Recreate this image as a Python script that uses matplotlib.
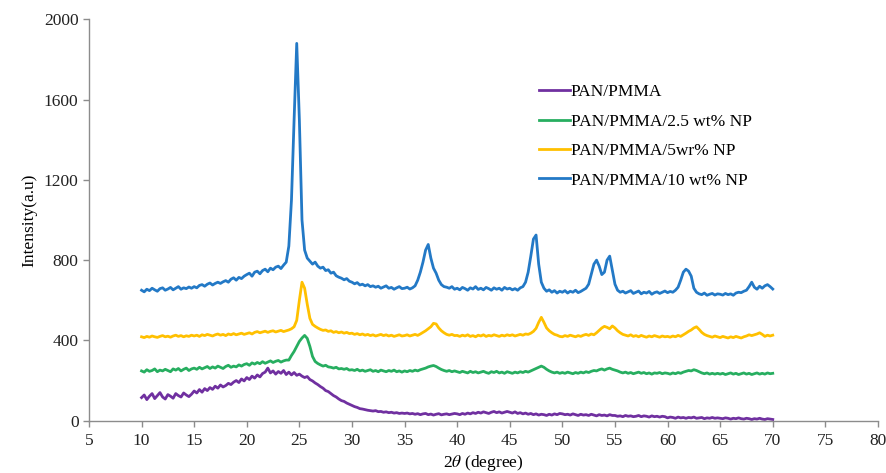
import numpy as np
import matplotlib
matplotlib.use("Agg")
import matplotlib.pyplot as plt

# 2-theta grid (degree), 10..70 step 0.25
two_theta = np.linspace(10, 70, 241)

labels = ["PAN/PMMA", "PAN/PMMA/2.5 wt% NP", "PAN/PMMA/5wr% NP", "PAN/PMMA/10 wt% NP"]

# intensities, one row = 5 degrees
pan_pmma = [
    115, 128, 105, 122, 135, 110, 125, 140, 118, 108, 130, 122, 112, 135, 125, 118, 138, 128, 120, 132,
    148, 138, 155, 142, 160, 150, 165, 156, 172, 162, 178, 168, 175, 186, 180, 192, 200, 190, 208, 198,
    215, 205, 222, 212, 228, 218, 235, 242, 262, 238, 248, 232, 245, 236, 250, 230, 242, 228, 240, 226,
    232, 222, 215, 220, 205, 198, 188, 180, 170, 162, 150, 145, 135, 125, 118, 108, 100, 96, 88, 82,
    76, 70, 66, 60, 58, 55, 52, 50, 48, 50, 45, 46, 42, 44, 40, 42, 38, 40, 36, 38,
    36, 38, 34, 36, 32, 35, 30, 34, 36, 30, 33, 28, 32, 35, 29, 32, 34, 30, 33, 36,
    34, 30, 36, 32, 38, 34, 40, 36, 42, 38, 44, 40, 36, 42, 46, 40, 44, 38, 42, 46,
    42, 38, 44, 36, 40, 34, 38, 32, 36, 30, 34, 28, 32, 30, 26, 32, 28, 34, 30, 36,
    34, 30, 32, 28, 34, 30, 26, 32, 28, 30, 26, 32, 28, 24, 30, 26, 28, 24, 30, 26,
    26, 22, 24, 20, 26, 22, 24, 20, 22, 26, 20, 24, 22, 18, 24, 20, 22, 18, 22, 20,
    14, 18, 16, 12, 18, 14, 16, 12, 16, 14, 18, 12, 14, 16, 10, 14, 12, 16, 12, 14,
    12, 10, 14, 12, 8, 12, 10, 14, 10, 8, 12, 10, 6, 10, 8, 12, 8, 6, 10, 8,
    6,
]

np_2_5 = [
    248, 242, 254, 246, 250, 258, 244, 252, 248, 256, 250, 244, 258, 252, 260, 248, 256, 262, 250, 258,
    262, 256, 266, 258, 264, 270, 260, 268, 262, 272, 266, 260, 270, 276, 266, 272, 268, 278, 272, 280,
    284, 276, 288, 282, 290, 284, 294, 286, 292, 298, 290, 296, 300, 292, 298, 302, 302, 325, 345, 370,
    395, 412, 425, 410, 370, 320, 295, 285, 278, 272, 276, 268, 266, 262, 266, 258, 260, 256, 260, 252,
    254, 250, 256, 248, 252, 246, 250, 254, 246, 250, 244, 252, 248, 244, 250, 246, 252, 244, 248, 242,
    248, 244, 250, 246, 252, 248, 254, 258, 262, 268, 272, 275, 270, 262, 255, 250, 246, 250, 244, 248,
    244, 240, 246, 242, 238, 246, 240, 244, 238, 242, 246, 240, 236, 244, 240, 246, 238, 242, 236, 244,
    240, 236, 242, 238, 244, 240, 246, 242, 248, 254, 260, 266, 272, 266, 256, 248, 242, 238, 242, 236,
    240, 236, 242, 238, 234, 240, 236, 242, 238, 244, 240, 246, 250, 248, 254, 258, 252, 258, 262, 256,
    252, 248, 242, 238, 242, 236, 240, 234, 238, 242, 236, 240, 234, 238, 232, 238, 236, 240, 234, 238,
    236, 232, 238, 234, 240, 236, 242, 246, 250, 248, 254, 250, 244, 238, 234, 238, 232, 236, 232, 236,
    232, 236, 230, 234, 238, 232, 236, 230, 234, 238, 232, 236, 230, 234, 238, 232, 236, 232, 238, 234,
    236,
]

np_5 = [
    418, 414, 420, 416, 422, 418, 415, 420, 424, 418, 421, 416, 422, 426, 420, 424, 418, 423, 420, 426,
    422, 426, 420, 428, 424, 430, 426, 422, 428, 432, 426, 430, 424, 432, 428, 434, 428, 432, 436, 430,
    434, 438, 432, 440, 444, 438, 442, 446, 440, 445, 448, 442, 446, 450, 444, 448, 452, 458, 468, 500,
    600, 690, 660, 580, 510, 480, 470, 462, 455, 450, 452, 445, 448, 440, 444, 438, 442, 436, 440, 434,
    436, 430, 434, 428, 432, 426, 430, 424, 428, 422, 426, 430, 424, 428, 422, 426, 420, 424, 428, 422,
    424, 428, 422, 426, 430, 425, 432, 440, 448, 458, 468, 485, 482, 462, 448, 438, 430, 426, 430, 424,
    425, 420, 426, 422, 428, 420, 424, 418, 426, 422, 428, 420, 425, 422, 428, 424, 420, 426, 422, 428,
    424, 428, 422, 426, 430, 426, 432, 430, 436, 445, 460, 490, 515, 490, 462, 448, 438, 430, 426, 420,
    418, 424, 420, 426, 422, 418, 424, 420, 426, 430, 425, 432, 428, 438, 450, 462, 470, 465, 458, 472,
    462, 448, 438, 430, 426, 422, 428, 420, 424, 418, 425, 420, 416, 422, 418, 424, 420, 416, 422, 418,
    420, 416, 422, 418, 425, 420, 428, 436, 445, 452, 462, 468, 455, 440, 430, 424, 420, 416, 422, 418,
    414, 420, 416, 412, 418, 414, 420, 416, 412, 418, 422, 428, 424, 428, 432, 438, 430, 420, 426, 422,
    426,
]

np_10 = [
    650, 642, 655, 648, 660, 652, 645, 658, 662, 650, 656, 664, 652, 660, 668, 655, 662, 658, 666, 660,
    668, 662, 674, 678, 670, 680, 686, 676, 684, 690, 684, 692, 698, 690, 705, 712, 700, 714, 708, 720,
    728, 735, 720, 740, 745, 732, 748, 755, 742, 760, 752, 765, 770, 758, 775, 790, 870, 1100, 1500, 1880,
    1500, 1000, 850, 810, 795, 780, 790, 770, 760, 765, 748, 752, 735, 740, 722, 715, 710, 702, 708, 695,
    690, 682, 688, 676, 680, 672, 678, 668, 672, 665, 670, 660, 666, 672, 660, 664, 655, 662, 668, 658,
    660, 665, 656, 662, 672, 700, 740, 790, 850, 878, 810, 760, 735, 700, 678, 668, 665, 660, 668, 655,
    660, 652, 664, 658, 650, 662, 656, 668, 654, 660, 652, 664, 658, 650, 662, 655, 660, 650, 664, 656,
    660, 652, 658, 650, 662, 668, 690, 740, 820, 905, 925, 780, 690, 660, 645, 652, 640, 648, 636, 645,
    640, 648, 636, 645, 640, 650, 638, 644, 652, 660, 680, 730, 780, 800, 770, 728, 740, 800, 820, 750,
    680, 650, 640, 645, 636, 642, 648, 634, 640, 646, 632, 640, 636, 644, 630, 638, 642, 634, 640, 646,
    638, 644, 640, 650, 665, 700, 740, 755, 745, 720, 660, 640, 632, 628, 636, 625, 630, 634, 626, 632,
    630, 626, 634, 628, 632, 625, 636, 640, 638, 645, 650, 668, 690, 665, 655, 670, 660, 672, 678, 668,
    656,
]

series = [pan_pmma, np_2_5, np_5, np_10]
colors = ["#7030A0", "#27AE60", "#FFC000", "#2379C6"]

plt.rcParams["font.family"] = ["Liberation Serif", "DejaVu Serif"]
plt.rcParams["mathtext.fontset"] = "stix"

fig = plt.figure(figsize=(8.87, 4.73), dpi=100)
ax = fig.add_axes([0.1003, 0.1106, 0.8895, 0.8486])

for ys, col, lab in zip(series, colors, labels):
    ax.plot(two_theta, ys, color=col, lw=2.0, label=lab)

ax.set_xlim(5, 80)
ax.set_ylim(0, 2000)
ax.set_xticks(range(5, 81, 5))
ax.set_yticks(range(0, 2001, 400))

for s in ["top", "right"]:
    ax.spines[s].set_visible(False)
for s in ["left", "bottom"]:
    ax.spines[s].set_color("#8c8c8c")
    ax.spines[s].set_linewidth(1.0)
ax.tick_params(axis="both", direction="out", length=4, width=1, color="#8c8c8c",
               labelsize=12.5, labelcolor="#222222")
ax.tick_params(axis="x", pad=5)

ax.set_ylabel("Intensity(a.u)", fontsize=12.5, labelpad=5)
ax.set_xlabel(r"2$\theta$ (degree)", fontsize=12.5, labelpad=3)

ax.legend(loc="upper left", bbox_to_anchor=(0.571, 0.838), frameon=False,
          fontsize=12.5, handlelength=1.75, handletextpad=0.05,
          labelspacing=0.76, borderaxespad=0, borderpad=0)

fig.savefig("out.png", dpi=100)
